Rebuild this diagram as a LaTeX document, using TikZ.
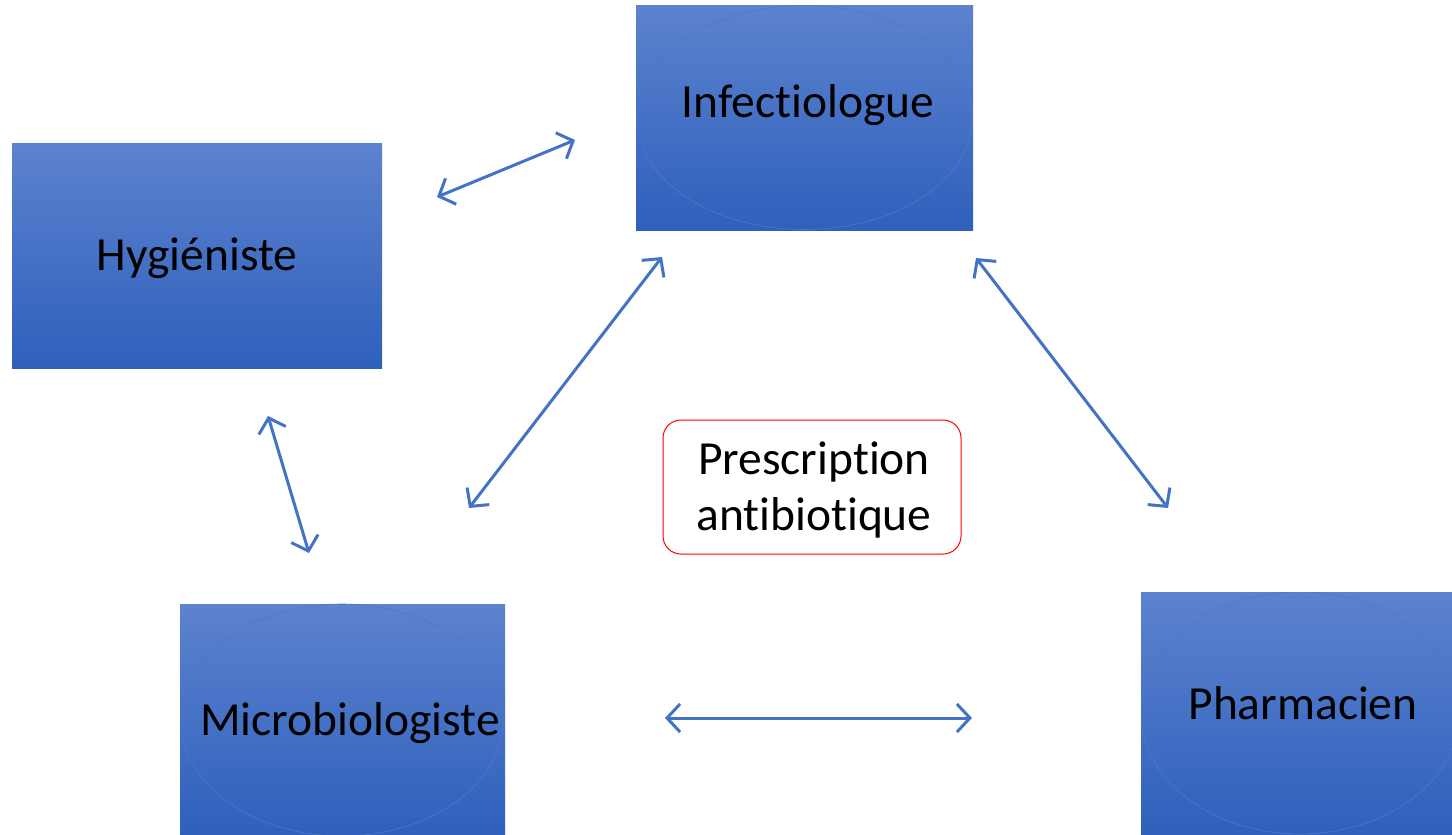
\documentclass[tikz,border=0pt]{standalone}
\usepackage{fontspec}
\setmainfont[Ligatures={NoCommon}]{Carlito}
\usetikzlibrary{arrows.meta}
\definecolor{boxtop}{HTML}{5D82CE}
\definecolor{boxbot}{HTML}{2E60BC}
\definecolor{ellline}{HTML}{4F78C8}
\definecolor{arrowblue}{HTML}{4472C4}
\definecolor{framered}{HTML}{FF0000}
\begin{document}
\begin{tikzpicture}[x=1pt,y=-1pt,
  bluebox/.style={draw=none,top color=boxtop,bottom color=boxbot,inner sep=0pt,outer sep=0pt},
  ringline/.style={draw=ellline,line width=0.6pt},
  lbl/.style={font=\fontsize{47.5}{56}\selectfont,text=black,inner sep=0pt},
  link/.style={draw=arrowblue,line width=3pt,{Straight Barb[length=13pt,width=28pt,line width=3pt]}-{Straight Barb[length=13pt,width=28pt,line width=3pt]}},
  prescbox/.style={draw=framered,line width=1pt,rounded corners=18pt,fill=white}
]
\useasboundingbox (0,0) rectangle (1452,835);

% Infectiologue
\path[bluebox] (636,5) rectangle (973,230);
\draw[ringline] (804.5,117.5) ellipse [x radius=168, y radius=112];
\node[lbl] (inf) at (808,105) {Infectiologue};

% Hygieniste
\path[bluebox] (12,143) rectangle (382,368);
\node[lbl] (hyg) at (197,258) {Hygiéniste};

% Microbiologiste
\path[bluebox] (180,604) rectangle (505,835);
\draw[ringline] (342,720) ellipse [x radius=161, y radius=116];
\node[lbl] (mic) at (350,723) {Microbiologiste};

% Pharmacien
\path[bluebox] (1141,592) rectangle (1452,835);
\begin{scope}
\clip (1141,592) rectangle (1452,835);
\draw[ringline] (1300,713) ellipse [x radius=159, y radius=121];
\end{scope}
\node[lbl] (pha) at (1303,703) {Pharmacien};

% Prescription
\path[prescbox] (663,420) rectangle (961,554);
\node[lbl,align=center] (pre) at (814,490) {Prescription\\antibiotique};

% arrow end points
\coordinate (a1) at (437,197); \coordinate (b1) at (575,140);
\coordinate (a2) at (469,508); \coordinate (b2) at (662,257);
\coordinate (a3) at (976,258); \coordinate (b3) at (1168,508);
\coordinate (a4) at (268,416); \coordinate (b4) at (309,553);
\coordinate (a5) at (665,718); \coordinate (b5) at (972,718);

\draw[link] (a1) -- (b1);
\draw[link] (a2) -- (b2);
\draw[link] (a3) -- (b3);
\draw[link] (a4) -- (b4);
\draw[link] (a5) -- (b5);
\end{tikzpicture}
\end{document}
